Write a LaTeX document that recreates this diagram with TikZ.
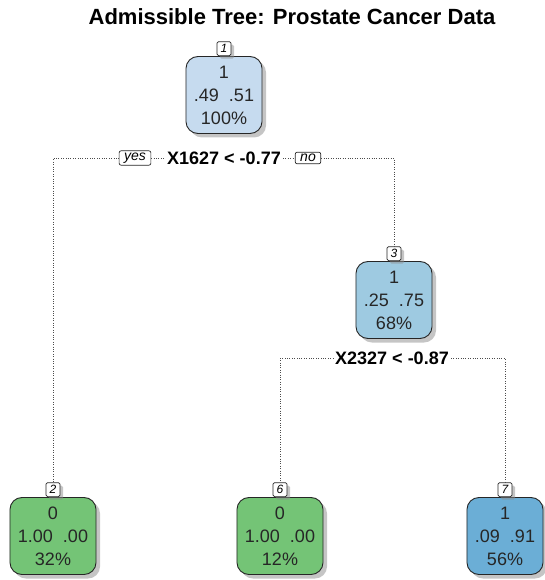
\documentclass[tikz,border=0pt]{standalone}
\usepackage{fontspec}
\setmainfont{Liberation Sans}
\usetikzlibrary{shadows}
\definecolor{paleblue}{HTML}{C6DBEF}
\definecolor{midblue}{HTML}{9ECAE1}
\definecolor{deepblue}{HTML}{6BAED6}
\definecolor{leafgreen}{HTML}{74C476}
\begin{document}
\begin{tikzpicture}[x=1pt,y=-1pt,
		treenode/.style={draw=black!85,line width=0.9pt,rounded corners=12pt,align=center,text=black!85,
			font=\fontsize{18}{23}\selectfont,minimum height=77pt,inner xsep=8pt,
			drop shadow={shadow xshift=4pt,shadow yshift=-4pt,fill=black!45}},
		nodenum/.style={draw=black!85,line width=0.7pt,fill=white,anchor=south,inner sep=1pt,minimum size=14pt,
			rounded corners=1.5pt,font=\fontsize{12}{12}\selectfont\itshape,
			drop shadow={shadow xshift=3pt,shadow yshift=-3pt,fill=black!45}},
		splitlab/.style={font=\fontsize{18}{18}\selectfont\bfseries,inner sep=2pt},
		answer/.style={draw=black!85,line width=0.7pt,fill=white,rounded corners=2pt,
			inner xsep=5pt,inner ysep=2pt,font=\fontsize{14}{14}\selectfont\itshape},
		branch/.style={dotted,black!70}]
\useasboundingbox (0,0) rectangle (544,580);

\node[font=\fontsize{22}{26}\selectfont\bfseries] (title) at (292,17) {Admissible Tree: Prostate Cancer Data};

% tree nodes
\node[treenode,fill=paleblue] (t1) at (224,95) {1\\.49\ \ .51\\100\%};
\node[treenode,fill=midblue] (t3) at (394,300) {1\\.25\ \ .75\\68\%};
\node[treenode,fill=leafgreen] (t2) at (53,536) {0\\1.00\ \ .00\\32\%};
\node[treenode,fill=leafgreen] (t6) at (280,536) {0\\1.00\ \ .00\\12\%};
\node[treenode,fill=deepblue] (t7) at (505,536) {1\\.09\ \ .91\\56\%};

\node[nodenum] (n1) at (t1.north) {1};
\node[nodenum] (n3) at (t3.north) {3};
\node[nodenum] (n2) at (t2.north) {2};
\node[nodenum] (n6) at (t6.north) {6};
\node[nodenum] (n7) at (t7.north) {7};

% splits
\node[splitlab] (s1) at (224,158) {X1627 < -0.77};
\node[answer] (yes) at (135,158) {yes};
\node[answer] (no) at (308,158) {no};
\node[splitlab] (s2) at (392,358) {X2327 < -0.87};

\draw[branch] (yes.west) -| (n2.north);
\draw[branch] (yes.east) -- (s1.west);
\draw[branch] (s1.east) -- (no.west);
\draw[branch] (no.east) -| (n3.north);
\draw[branch] (s2.west) -| (n6.north);
\draw[branch] (s2.east) -| (n7.north);
\end{tikzpicture}
\end{document}
